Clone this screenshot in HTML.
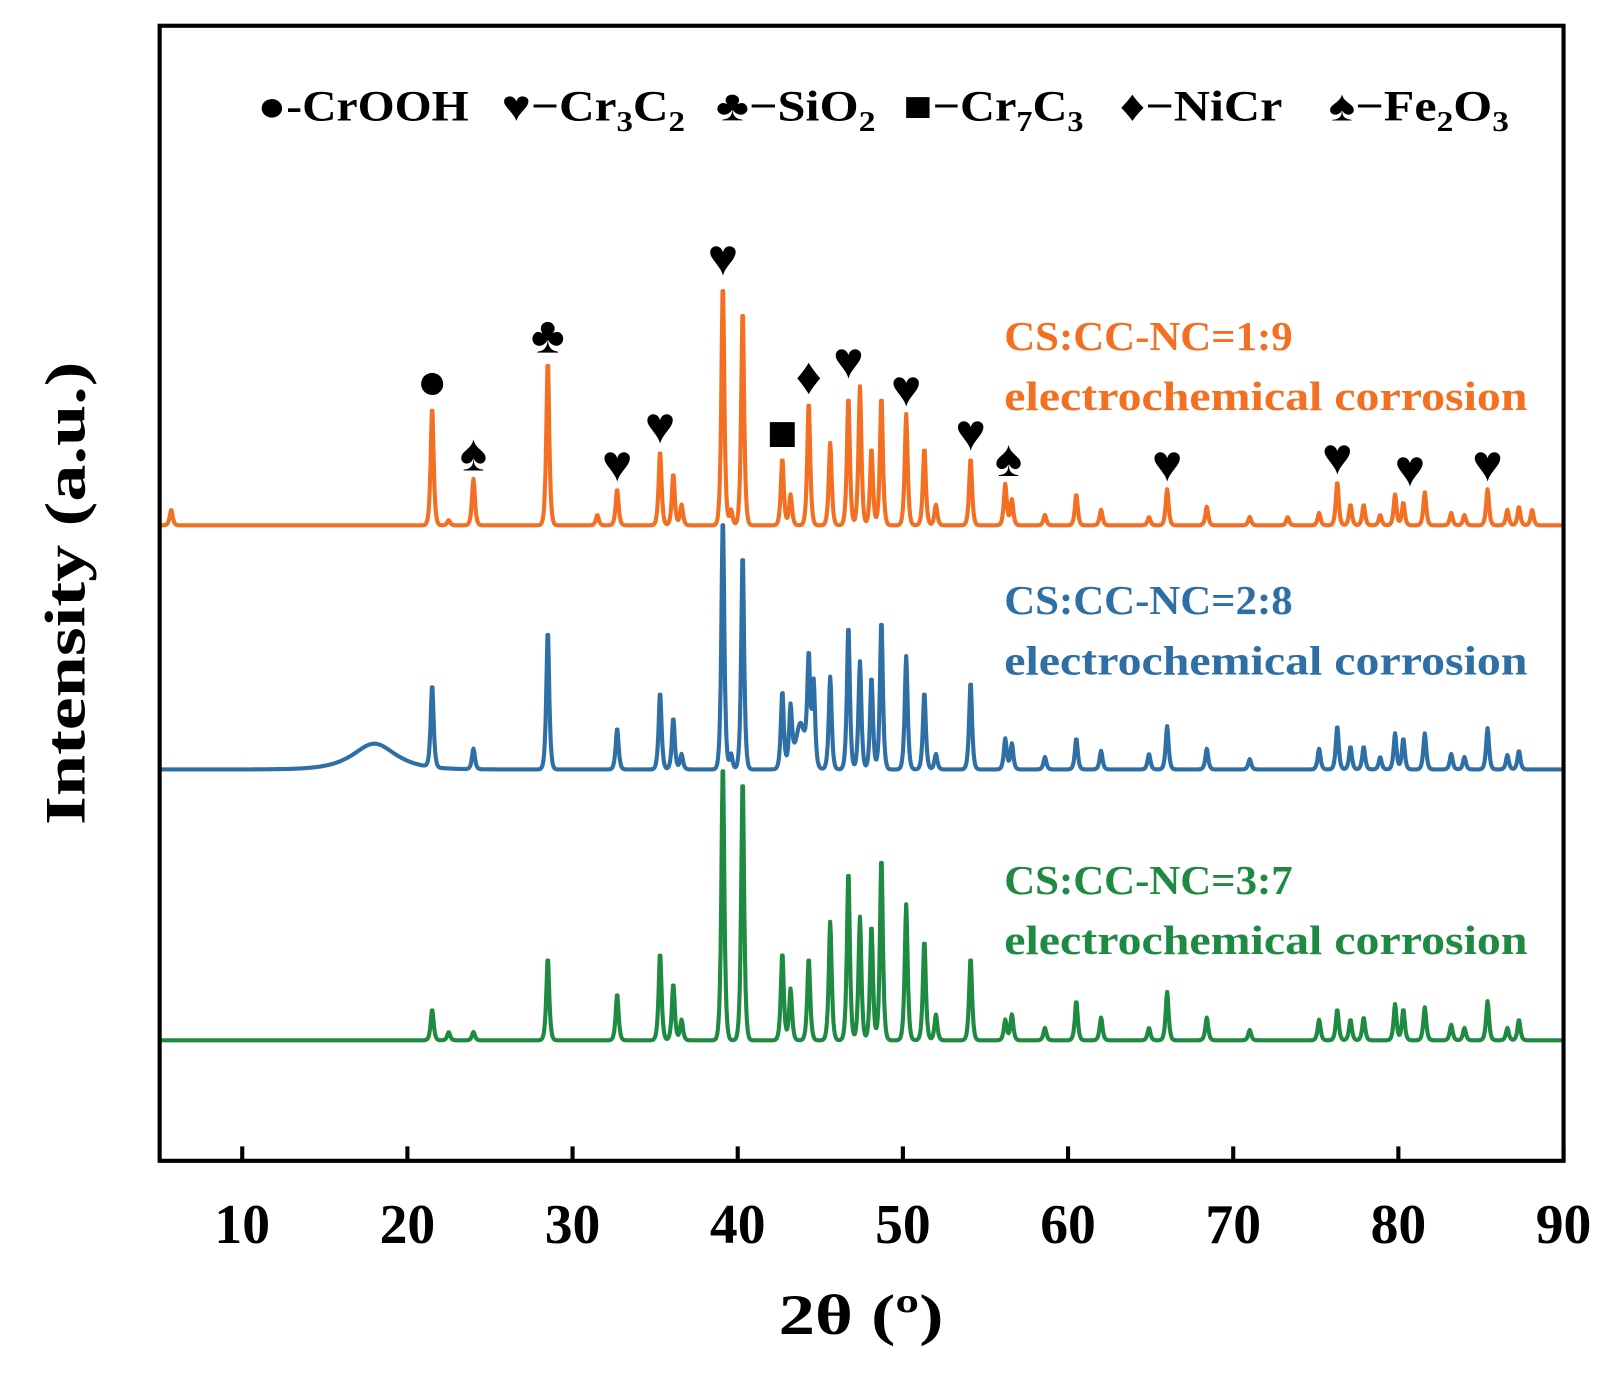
<!DOCTYPE html>
<html><head><meta charset="utf-8"><style>
body{margin:0;background:#fff;}
svg{display:block;font-family:"Liberation Serif",serif;font-weight:bold;}
</style></head><body>
<svg width="1615" height="1373" viewBox="0 0 1615 1373" xmlns="http://www.w3.org/2000/svg">
<g transform="scale(1.03)">
<g id="plot"></g>
<rect x="155" y="25" width="1363" height="1102" fill="none" stroke="#000" stroke-width="4"/>
<g id="xticks"></g>
<text x="836" y="1295" text-anchor="middle" font-size="56" textLength="160" lengthAdjust="spacingAndGlyphs">2θ (º)</text>
<text transform="translate(82,576) rotate(-90)" text-anchor="middle" font-size="56" textLength="450" lengthAdjust="spacingAndGlyphs">Intensity (a.u.)</text>
<g font-size="42">
<text x="250" y="117" textLength="205" lengthAdjust="spacingAndGlyphs">●-CrOOH</text>
<text x="487" y="117" textLength="178" lengthAdjust="spacingAndGlyphs">♥−Cr<tspan font-size="28" dy="10">3</tspan><tspan dy="-10">C</tspan><tspan font-size="28" dy="10">2</tspan></text>
<text x="695" y="117" textLength="155" lengthAdjust="spacingAndGlyphs">♣−SiO<tspan font-size="28" dy="10">2</tspan></text>
<text x="877" y="117" textLength="175" lengthAdjust="spacingAndGlyphs">■−Cr<tspan font-size="28" dy="10">7</tspan><tspan dy="-10">C</tspan><tspan font-size="28" dy="10">3</tspan></text>
<text x="1087" y="117" textLength="158" lengthAdjust="spacingAndGlyphs">♦−NiCr</text>
<text x="1290" y="117" textLength="175" lengthAdjust="spacingAndGlyphs">♠−Fe<tspan font-size="28" dy="10">2</tspan><tspan dy="-10">O</tspan><tspan font-size="28" dy="10">3</tspan></text>
</g>
<g font-size="40">
<text x="975" y="340" fill="#f36f21" textLength="280" lengthAdjust="spacingAndGlyphs">CS:CC-NC=1:9</text>
<text x="975" y="398" fill="#f36f21" textLength="508" lengthAdjust="spacingAndGlyphs">electrochemical corrosion</text>
<text x="975" y="596" fill="#2e6fa6" textLength="280" lengthAdjust="spacingAndGlyphs">CS:CC-NC=2:8</text>
<text x="975" y="655" fill="#2e6fa6" textLength="508" lengthAdjust="spacingAndGlyphs">electrochemical corrosion</text>
<text x="975" y="868" fill="#1f8a42" textLength="280" lengthAdjust="spacingAndGlyphs">CS:CC-NC=3:7</text>
<text x="975" y="926" fill="#1f8a42" textLength="508" lengthAdjust="spacingAndGlyphs">electrochemical corrosion</text>
</g>
<g id="markers" font-size="50" text-anchor="middle"></g>
</g>
</svg>
<script>
const xTicks=[10,20,30,40,50,60,70,80,90];
const offsets=[510,747,1010];
const pos1=[5.7,21.5,22.5,24,28.5,31.5,32.7,35.3,36.1,36.6,39.1,39.6,40.3,42.7,43.2,44.3,45.6,46.7,47.4,48.1,48.7,50.2,51.3,52,54.1,56.2,56.6,58.6,60.5,62,64.9,66,68.4,71,73.3,75.2,76.3,77.1,77.9,78.9,79.8,80.3,81.6,83.2,84,85.4,86.6,87.3,88.1];
const hgt1=[15,115,5,45,160,10,35,72,50,20,235,15,210,65,30,120,80,125,135,75,125,108,75,20,65,40,25,10,30,15,8,35,18,8,8,12,42,20,20,10,30,22,32,12,10,35,15,18,15];
const pos2=[18,21.5,24,28.5,32.7,35.3,36.1,36.6,39.1,39.6,40.3,42.7,43.2,43.8,44.3,44.6,45.6,46.7,47.4,48.1,48.7,50.2,51.3,52,54.1,56.2,56.6,58.6,60.5,62,64.9,66,68.4,71,75.2,76.3,77.1,77.9,78.9,79.8,80.3,81.6,83.2,84,85.4,86.6,87.3];
const hgt2=[25,80,20,135,40,75,50,15,245,15,210,75,55,45,100,80,90,140,105,90,145,110,75,15,85,30,25,12,30,18,15,42,20,10,20,42,22,22,12,35,30,35,15,12,40,14,18];
const pos3=[21.5,22.5,24,28.5,32.7,35.3,36.1,36.6,39.1,40.3,42.7,43.2,44.3,45.6,46.7,47.4,48.1,48.7,50.2,51.3,52,54.1,56.2,56.6,58.6,60.5,62,64.9,66,68.4,71,75.2,76.3,77.1,77.9,79.8,80.3,81.6,83.2,84,85.4,86.6,87.3];
const hgt3=[30,8,8,80,45,85,55,20,270,255,85,50,80,115,165,120,112,178,132,97,25,80,20,25,12,38,22,12,47,22,10,20,30,20,22,35,30,32,15,12,38,12,20];
const markPos=[21.5,24,28.5,32.7,35.3,39.1,42.7,44.3,46.7,50.2,54.1,56.4,66,76.3,80.7,85.4];
const markSym=["●","♠","♣","♥","♥","♥","■","♦","♥","♥","♥","♠","♥","♥","♥","♥"];
const markH=[115,45,160,35,72,235,65,120,135,108,65,40,35,42,30,35];
const colors=["#f36f21","#2e6fa6","#1f8a42"];
const NS="http://www.w3.org/2000/svg";
const X=v=>155+(v-5)*(1363/85);
const Y=(v,off)=>off-v;
function curve(pos,hgt){const pts=[];for(let x=5;x<=90.001;x+=0.04){let y=0;for(let i=0;i<pos.length;i++){const w=pos[i]===18?2.2:(pos[i]===43.8?0.5:0.15);const d=(x-pos[i])/w;y+=hgt[i]/(1+d*d*1.6)*Math.exp(-d*d*0.3);}pts.push([x,y]);}return pts;}
const plot=document.getElementById('plot');
[[pos1,hgt1],[pos2,hgt2],[pos3,hgt3]].forEach((s,k)=>{
 const p=curve(s[0],s[1]);
 const path=document.createElementNS(NS,'path');
 path.setAttribute('d',p.map((q,i)=>(i?'L':'M')+X(q[0]).toFixed(1)+','+Y(q[1],offsets[k]).toFixed(1)).join(''));
 path.setAttribute('fill','none');path.setAttribute('stroke',colors[k]);path.setAttribute('stroke-width','4');path.setAttribute('stroke-linejoin','round');
 
 
 plot.appendChild(path);
});
const xt=document.getElementById('xticks');
xTicks.forEach(t=>{
 const l=document.createElementNS(NS,'line');
 l.setAttribute('x1',X(t));l.setAttribute('x2',X(t));l.setAttribute('y1',1127);l.setAttribute('y2',1113);l.setAttribute('stroke','#000');l.setAttribute('stroke-width','4');
 
 
 xt.appendChild(l);
 const tx=document.createElementNS(NS,'text');
 tx.setAttribute('x',X(t));tx.setAttribute('y',1207);tx.setAttribute('text-anchor','middle');tx.setAttribute('font-size','54');tx.textContent=t;
 
 
 xt.appendChild(tx);
});
const mk=document.getElementById('markers');
markPos.forEach((m,i)=>{
 const tx=document.createElementNS(NS,'text');
 tx.setAttribute('x',X(m));tx.setAttribute('y',Y(markH[i],offsets[0])-8);tx.textContent=markSym[i];
 
 
 mk.appendChild(tx);
});
</script>
</body></html>
